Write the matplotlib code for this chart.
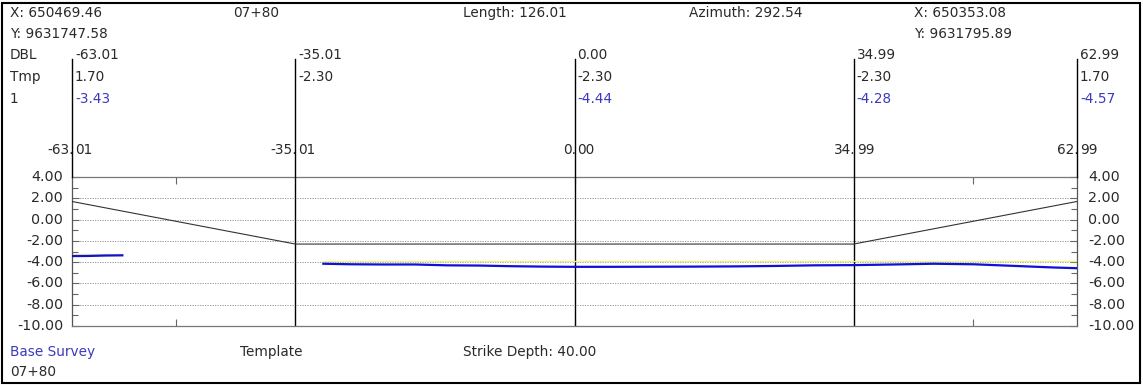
import matplotlib
matplotlib.use("Agg")
import matplotlib.pyplot as plt
from matplotlib.patches import Rectangle

# ---------------- data ----------------
stations = [-63.01, -35.01, 0.00, 34.99, 62.99]
station_labels = ["-63.01", "-35.01", "0.00", "34.99", "62.99"]
tmp_labels = ["1.70", "-2.30", "-2.30", "-2.30", "1.70"]
survey_labels = ["-3.43", "", "-4.44", "-4.28", "-4.57"]

template_x = [-63.01, -35.01, 34.99, 62.99]
template_y = [1.70, -2.30, -2.30, 1.70]

survey1_x = [-63.01, -61.0, -59.0, -56.7]
survey1_y = [-3.43, -3.42, -3.38, -3.36]

survey2_x = [-31.5, -28, -24, -20, -16, -12, -8, -4, 0, 5, 10, 15, 20, 25,
             30, 34.99, 40, 45, 50, 55, 60, 62.99]
survey2_y = [-4.15, -4.20, -4.22, -4.22, -4.30, -4.32, -4.38, -4.42, -4.44,
             -4.44, -4.43, -4.42, -4.40, -4.36, -4.30, -4.28, -4.22, -4.15,
             -4.20, -4.35, -4.50, -4.57]

yellow1_x = [-63.01, -56.7]
yellow1_y = [-3.20, -3.20]
yellow2_x = [-31.5, 62.99]
yellow2_y = [-3.85, -3.85]

y_ticks = [4, 2, 0, -2, -4, -6, -8, -10]
y_tick_labels = ["4.00", "2.00", "0.00", "-2.00", "-4.00", "-6.00", "-8.00", "-10.00"]

header_left = ["X: 650469.46", "Y: 9631747.58"]
header_right = ["X: 650353.08", "Y: 9631795.89"]
station_name = "07+80"
length_text = "Length: 126.01"
azimuth_text = "Azimuth: 292.54"
row_names = ["DBL", "Tmp", "1"]
footer = ["Base Survey", "Template", "Strike Depth: 40.00", "07+80"]

# ---------------- layout ----------------
W, H = 1143, 385
plt.rcParams['font.family'] = ['DejaVu Sans']
fig = plt.figure(figsize=(W / 100, H / 100), dpi=100)
fig.patch.set_facecolor("white")

TXT = "#2a2a2a"
BLUE_T = "#3a3ac0"
FS = 9.8


def ftext(x, y, s, **kw):
    kw.setdefault("fontsize", FS)
    kw.setdefault("color", TXT)
    kw.setdefault("va", "center")
    return fig.text(x / W, 1 - y / H, s, **kw)


# figure border
fig.add_artist(Rectangle((2 / W, 2 / H), (W - 5) / W, (H - 5) / H,
                         transform=fig.transFigure, fill=False,
                         edgecolor="black", linewidth=1.5))

# axes
x0, x1 = 72, 1077
ytop, ybot = 177, 326
ax = fig.add_axes([x0 / W, (H - ybot) / H, (x1 - x0) / W, (ybot - ytop) / H])
ax.set_xlim(stations[0], stations[-1])
ax.set_ylim(-10, 4)

for s in ["top", "bottom"]:
    ax.spines[s].set_color("#777777")
    ax.spines[s].set_linewidth(0.9)
for s in ["left", "right"]:
    ax.spines[s].set_color("#555555")
    ax.spines[s].set_linewidth(0.9)

# gridlines
for v in y_ticks[1:-1]:
    ax.axhline(v, color="#8a8a8a", lw=0.6, ls=(0, (1.5, 1.5)), zorder=1)

# y ticks
ax.set_yticks(y_ticks)
ax.set_yticks(range(-9, 4, 2), minor=True)
ax.tick_params(axis="y", which="both", direction="in", left=True, right=True,
               labelleft=False, labelright=False, color="#666666", width=0.8)
ax.tick_params(axis="y", which="major", length=5)
ax.tick_params(axis="y", which="minor", length=4)
ax.set_xticks([-50, 0, 50])
ax.tick_params(axis="x", direction="in", top=True, bottom=True, length=5,
               labelbottom=False, color="#666666", width=0.8)

# station vertical lines inside axes
for sx in stations[1:-1]:
    ax.axvline(sx, color="black", lw=1.0, zorder=2)

# lines
ax.plot(yellow1_x, yellow1_y, color="#f2f28a", lw=1.0, zorder=2)
ax.plot(yellow2_x, yellow2_y, color="#f2f28a", lw=1.0, zorder=2)
ax.plot(template_x, template_y, color="#333333", lw=0.8, zorder=3)
ax.plot(survey1_x, survey1_y, color="#1010d8", lw=1.6, zorder=4)
ax.plot(survey2_x, survey2_y, color="#1010d8", lw=1.6, zorder=4)

# y labels
for v, lab in zip(y_ticks, y_tick_labels):
    py = ytop + (4 - v) / 14 * (ybot - ytop)
    ftext(63, py, lab, ha="right", fontsize=10.3)
    ftext(1088, py, lab, ha="left", fontsize=10.3)

# header
ftext(10, 13, header_left[0])
ftext(233, 13, station_name)
ftext(463, 13, length_text)
ftext(689, 13, azimuth_text)
ftext(914, 13, header_right[0])
ftext(10, 34, header_left[1])
ftext(914, 34, header_right[1])

# station table
def px(v):
    return x0 + (v - stations[0]) / (stations[-1] - stations[0]) * (x1 - x0)

rows_y = [55, 77, 99]
for name, ry in zip(row_names, rows_y):
    ftext(10, ry, name)
for i, sx in enumerate(stations):
    p = px(sx)
    ftext(p + 3, rows_y[0], station_labels[i])
    ftext(p + 3, rows_y[1], tmp_labels[i])
    if survey_labels[i]:
        ftext(p + 3, rows_y[2], survey_labels[i], color=BLUE_T)
    ip, fp = station_labels[i].split(".")
    ftext(p + 2, 150, ip + ".", ha="right")
    ftext(p + 3, 150, fp, ha="left")
    # vertical station line from table down to plot top
    fig.add_artist(plt.Line2D([p / W, p / W], [1 - 59 / H, 1 - ytop / H],
                              transform=fig.transFigure, color="black",
                              lw=1.0, zorder=5))

# footer
ftext(10, 352, footer[0], color=BLUE_T)
ftext(240, 352, footer[1])
ftext(463, 352, footer[2])
ftext(10, 372, footer[3])

fig.savefig("out.png", dpi=100, facecolor="white")
